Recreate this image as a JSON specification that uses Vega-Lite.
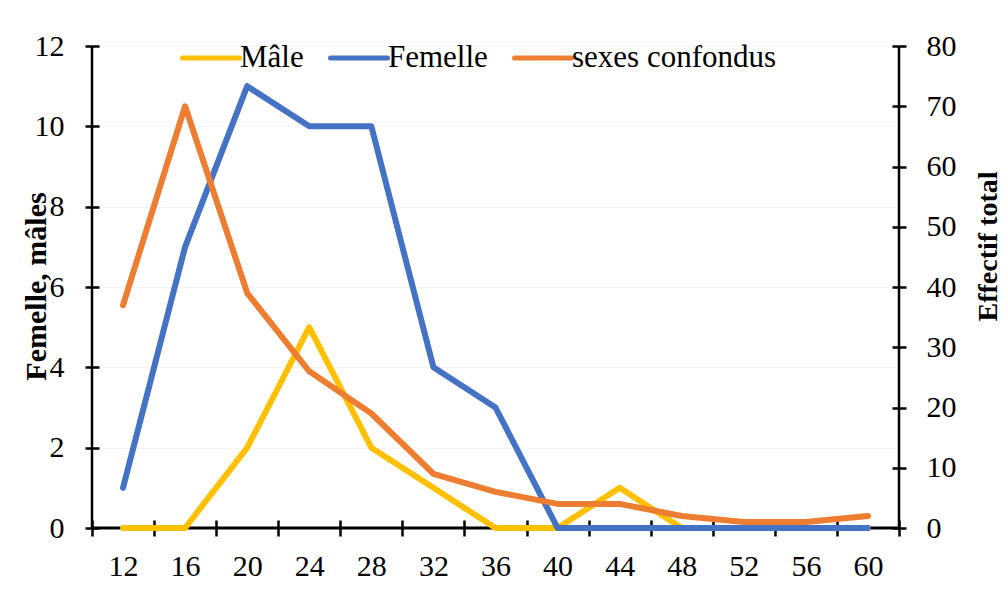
{
  "$schema": "https://vega.github.io/schema/vega-lite/v6.json",
  "width": 807,
  "height": 482,
  "autosize": "none",
  "padding": {"left": 92, "top": 46, "right": 107, "bottom": 84},
  "background": "white",
  "config": {
    "font": "Liberation Serif",
    "view": {"stroke": null}
  },
  "data": {
    "values": [
      {"classe": "12", "serie": "Mâle", "valeur": 0},
      {"classe": "16", "serie": "Mâle", "valeur": 0},
      {"classe": "20", "serie": "Mâle", "valeur": 2},
      {"classe": "24", "serie": "Mâle", "valeur": 5},
      {"classe": "28", "serie": "Mâle", "valeur": 2},
      {"classe": "32", "serie": "Mâle", "valeur": 1},
      {"classe": "36", "serie": "Mâle", "valeur": 0},
      {"classe": "40", "serie": "Mâle", "valeur": 0},
      {"classe": "44", "serie": "Mâle", "valeur": 1},
      {"classe": "48", "serie": "Mâle", "valeur": 0},
      {"classe": "52", "serie": "Mâle", "valeur": 0},
      {"classe": "56", "serie": "Mâle", "valeur": 0},
      {"classe": "60", "serie": "Mâle", "valeur": 0},
      {"classe": "12", "serie": "Femelle", "valeur": 1},
      {"classe": "16", "serie": "Femelle", "valeur": 7},
      {"classe": "20", "serie": "Femelle", "valeur": 11},
      {"classe": "24", "serie": "Femelle", "valeur": 10},
      {"classe": "28", "serie": "Femelle", "valeur": 10},
      {"classe": "32", "serie": "Femelle", "valeur": 4},
      {"classe": "36", "serie": "Femelle", "valeur": 3},
      {"classe": "40", "serie": "Femelle", "valeur": 0},
      {"classe": "44", "serie": "Femelle", "valeur": 0},
      {"classe": "48", "serie": "Femelle", "valeur": 0},
      {"classe": "52", "serie": "Femelle", "valeur": 0},
      {"classe": "56", "serie": "Femelle", "valeur": 0},
      {"classe": "60", "serie": "Femelle", "valeur": 0},
      {"classe": "12", "serie": "sexes confondus", "valeur": 37},
      {"classe": "16", "serie": "sexes confondus", "valeur": 70},
      {"classe": "20", "serie": "sexes confondus", "valeur": 39},
      {"classe": "24", "serie": "sexes confondus", "valeur": 26},
      {"classe": "28", "serie": "sexes confondus", "valeur": 19},
      {"classe": "32", "serie": "sexes confondus", "valeur": 9},
      {"classe": "36", "serie": "sexes confondus", "valeur": 6},
      {"classe": "40", "serie": "sexes confondus", "valeur": 4},
      {"classe": "44", "serie": "sexes confondus", "valeur": 4},
      {"classe": "48", "serie": "sexes confondus", "valeur": 2},
      {"classe": "52", "serie": "sexes confondus", "valeur": 1},
      {"classe": "56", "serie": "sexes confondus", "valeur": 1},
      {"classe": "60", "serie": "sexes confondus", "valeur": 2}
    ]
  },
  "encoding": {
    "x": {
      "field": "classe",
      "type": "ordinal",
      "sort": null,
      "bandPosition": 0.5,
      "scale": {"type": "band", "paddingInner": 0, "paddingOuter": 0, "domain": ["12","16","20","24","28","32","36","40","44","48","52","56","60"]},
      "axis": {
        "title": null,
        "offset": -8,
        "domain": false,
        "tickBand": "extent",
        "tickSize": 16,
        "tickWidth": 2.5,
        "tickColor": "black",
        "labelAngle": 0,
        "labelFont": "Liberation Serif",
        "labelFontSize": 30,
        "labelColor": "black",
        "labelPadding": 15
      }
    }
  },
  "layer": [
    {
      "layer": [
        {
          "transform": [{"filter": "datum.serie === 'Mâle' && datum.classe === '12'"}],
          "mark": {"type": "rule", "color": "black", "strokeWidth": 2.5},
          "encoding": {"x": {"field": "classe", "type": "ordinal", "bandPosition": 0}}
        },
        {
          "transform": [{"filter": "datum.serie === 'Mâle' && datum.classe === '60'"}],
          "mark": {"type": "rule", "color": "black", "strokeWidth": 2.5},
          "encoding": {"x": {"field": "classe", "type": "ordinal", "bandPosition": 1}}
        },
        {
          "transform": [{"filter": "datum.serie === 'Mâle' && datum.classe === '12'"}],
          "mark": {"type": "rule", "color": "black", "strokeWidth": 3},
          "encoding": {"x": null, "y": {"datum": 0, "type": "quantitative"}}
        },
        {
          "transform": [{"filter": "datum.serie !== 'sexes confondus'"}],
          "mark": {"type": "line", "strokeWidth": 6, "strokeCap": "round", "strokeJoin": "round"},
          "encoding": {
            "y": {
              "field": "valeur",
              "type": "quantitative",
              "scale": {"domain": [0, 12], "nice": false},
              "axis": {
                "title": "Femelle, mâles",
                "values": [0, 2, 4, 6, 8, 10, 12],
                "offset": -7,
                "domain": false,
                "tickSize": 14,
                "tickWidth": 2.5,
                "tickColor": "black",
                "grid": true,
                "gridColor": "#f4f4f4",
                "gridWidth": 1,
                "labelFont": "Liberation Serif",
                "labelFontSize": 30,
                "labelColor": "black",
                "labelPadding": 21,
                "titleFont": "Liberation Serif",
                "titleFontSize": 30,
                "titleFontWeight": "bold",
                "titleColor": "black",
                "titleAngle": -90,
                "titleBaseline": "alphabetic",
                "titleX": -54,
                "titleY": 240
              }
            },
            "color": {
              "field": "serie",
              "type": "nominal",
              "scale": {"domain": ["Mâle", "Femelle", "sexes confondus"], "range": ["#FFC000", "#4472C4", "#ED7D31"]},
              "legend": {
                "title": null,
                "orient": "none",
                "direction": "horizontal",
                "legendX": 88,
                "legendY": -19,
                "padding": 0,
                "symbolType": "stroke",
                "symbolSize": 3249,
                "symbolStrokeWidth": 5,
                "labelFont": "Liberation Serif",
                "labelFontSize": 31,
                "labelColor": "black",
                "labelLimit": 0,
                "labelOffset": -2,
                "columnPadding": 16,
                "encode": {"symbols": {"update": {"strokeCap": {"value": "round"}}}}
              }
            }
          }
        }
      ]
    },
    {
      "transform": [{"filter": "datum.serie === 'sexes confondus'"}],
      "mark": {"type": "line", "strokeWidth": 6, "strokeCap": "round", "strokeJoin": "round"},
      "encoding": {
        "y": {
          "field": "valeur",
          "type": "quantitative",
          "scale": {"domain": [0, 80], "nice": false},
          "axis": {
            "orient": "right",
            "title": "Effectif total",
            "values": [0, 10, 20, 30, 40, 50, 60, 70, 80],
            "offset": -7,
            "domain": false,
            "tickSize": 14,
            "tickWidth": 2.5,
            "tickColor": "black",
            "grid": false,
            "labelFont": "Liberation Serif",
            "labelFontSize": 30,
            "labelColor": "black",
            "labelPadding": 20,
            "titleFont": "Liberation Serif",
            "titleFontSize": 28,
            "titleFontWeight": "bold",
            "titleColor": "black",
            "titleAngle": -90,
            "titleBaseline": "alphabetic",
            "titleX": 104,
            "titleY": 200
          }
        },
        "color": {"field": "serie", "type": "nominal"}
      }
    }
  ],
  "resolve": {"scale": {"y": "independent"}}
}
